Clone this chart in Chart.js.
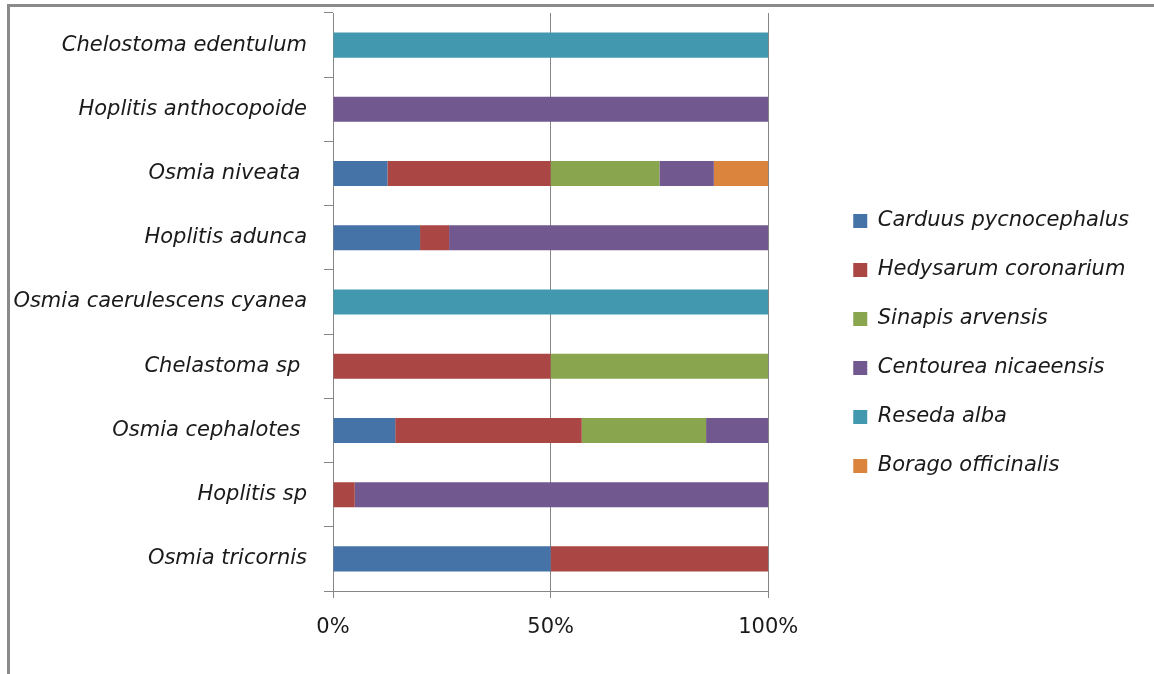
<!DOCTYPE html>
<html>
<head>
<meta charset="utf-8">
<title>Pollen sources by bee species</title>
<script src="https://cdn.jsdelivr.net/npm/chart.js@4.4.1/dist/chart.umd.min.js"></script>
<style>
    html, body { margin: 0; padding: 0; background: #fff; overflow: hidden; }
    #frame {
        position: absolute; left: 7px; top: 4px; width: 1200px; height: 700px;
        border-top: 3px solid #8a8a8a; border-left: 3px solid #8a8a8a;
    }
    #pollen { position: absolute; left: 0; top: 0; }
</style>
</head>
<body>
<div id="frame"></div>
<canvas id="pollen" width="1154" height="674"></canvas>
<script>
// bee species, top to bottom
const species = [
    'Chelostoma edentulum',
    'Hoplitis anthocopoide',
    'Osmia niveata ',
    'Hoplitis adunca',
    'Osmia caerulescens cyanea',
    'Chelastoma sp ',
    'Osmia cephalotes ',
    'Hoplitis sp',
    'Osmia tricornis'
];

// share of each plant in the pollen load (%)
const carduus   = [0, 0, 12.5, 20, 0, 0, 14.29, 0, 50];
const hedysarum = [0, 0, 37.5, 6.67, 0, 50, 42.86, 5, 50];
const sinapis   = [0, 0, 25, 0, 0, 50, 28.57, 0, 0];
const centourea = [0, 100, 12.5, 73.33, 0, 0, 14.29, 95, 0];
const reseda    = [100, 0, 0, 0, 100, 0, 0, 0, 0];
const borago    = [0, 0, 12.5, 0, 0, 0, 0, 0, 0];

const xTicks = [0, 50, 100];

function makeSet(label, data, color) {
    return {
        label: label,
        data: data,
        backgroundColor: color,
        borderWidth: 0,
        categoryPercentage: 1,
        barPercentage: 0.39,
    };
}

const gridColor = '#868686';
const font = { family: 'DejaVu Sans', size: 21 };
const italic = { family: 'DejaVu Sans', size: 21, style: 'italic' };

const ctx = document.getElementById('pollen');
const myChart = new Chart(ctx, {
    type: 'bar',
    data: {
        labels: species,
        datasets: [
            makeSet('Carduus pycnocephalus', carduus, '#4572A7'),
            makeSet('Hedysarum coronarium', hedysarum, '#AA4643'),
            makeSet('Sinapis arvensis', sinapis, '#89A54E'),
            makeSet('Centourea nicaeensis', centourea, '#71588F'),
            makeSet('Reseda alba', reseda, '#4198AF'),
            makeSet('Borago officinalis', borago, '#DB843D'),
        ],
    },
    options: {
        indexAxis: 'y',
        responsive: false,
        animation: false,
        layout: {
            padding: { top: 13, right: 15, bottom: 0, left: 0 },
        },
        scales: {
            x: {
                stacked: true,
                min: 0,
                max: 100,
                afterBuildTicks: (scale) => {
                    scale.ticks = xTicks.map((v) => ({ value: v }));
                },
                afterFit: (scale) => { scale.height = 83; },
                grid: { color: gridColor, lineWidth: 1, tickLength: 7 },
                border: { color: gridColor, width: 1 },
                ticks: {
                    color: '#1a1a1a',
                    font: font,
                    padding: 17,
                    callback: (v) => v + '%',
                },
            },
            y: {
                stacked: true,
                afterFit: (scale) => {
                    scale.width = 333;
                    // labels sit mid-band, no extra room needed above/below
                    scale.paddingTop = 0;
                    scale.paddingBottom = 0;
                },
                grid: {
                    offset: true,
                    drawOnChartArea: false,
                    color: gridColor,
                    tickLength: 9,
                },
                border: { color: gridColor, width: 1 },
                ticks: { color: '#1a1a1a', font: italic, padding: 17 },
            },
            // empty strip between the bars and the legend
            gap: {
                type: 'category',
                axis: 'y',
                position: 'right',
                display: true,
                afterFit: (scale) => { scale.width = 57; },
                grid: { display: false },
                border: { display: false },
                ticks: { display: false },
            },
        },
        plugins: {
            tooltip: { enabled: false },
            legend: {
                position: 'right',
                maxWidth: 400,
                labels: {
                    boxWidth: 14,
                    boxHeight: 14,
                    padding: 28,
                    color: '#1a1a1a',
                    font: italic,
                },
            },
        },
    },
});
</script>
</body>
</html>
